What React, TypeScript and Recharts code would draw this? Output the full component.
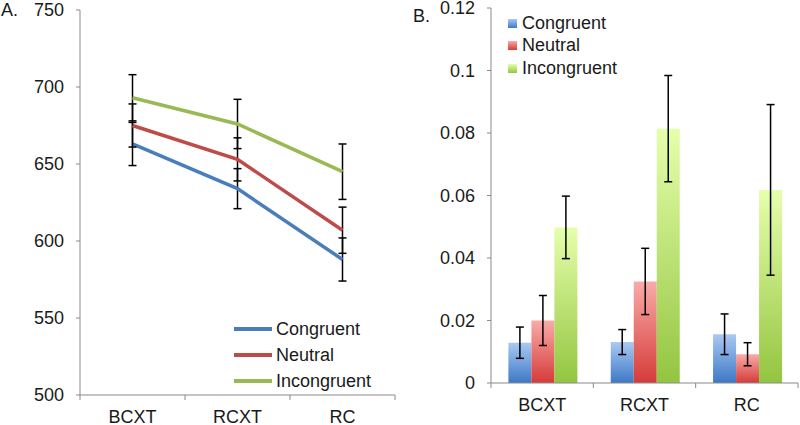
import React from 'react';
import {
  LineChart,
  Line,
  BarChart,
  Bar,
  XAxis,
  YAxis,
  ErrorBar,
  Legend
} from 'recharts';

// conditions on the x axis
const categories = ['BCXT', 'RCXT', 'RC'];

// Panel A: response times (ms) with error bars
const rtCongruent = [663, 634, 588];
const rtCongruentErr = [14, 13, 14];
const rtNeutral = [675, 653, 607];
const rtNeutralErr = [14, 14, 15];
const rtIncongruent = [693, 676, 645];
const rtIncongruentErr = [15, 16, 18];
const rtTicks = [500, 550, 600, 650, 700, 750];

// Panel B: error rates with error bars
const erCongruent = [0.0129, 0.0131, 0.0156];
const erCongruentErr = [0.005, 0.004, 0.0065];
const erNeutral = [0.02, 0.0325, 0.0092];
const erNeutralErr = [0.008, 0.0106, 0.0037];
const erIncongruent = [0.0498, 0.0814, 0.0618];
const erIncongruentErr = [0.01, 0.017, 0.0273];
const erTicks = [0, 0.02, 0.04, 0.06, 0.08, 0.1, 0.12];

const seriesNames = ['Congruent', 'Neutral', 'Incongruent'];
const lineColors = ['#4A7EBB', '#BE4B48', '#98B954'];
const barGradients = [
  { id: 'gBlue', top: '#A9C9F2', bottom: '#3D78C6' },
  { id: 'gRed', top: '#F9ABA9', bottom: '#D53B38' },
  { id: 'gGreen', top: '#E6FFAC', bottom: '#93C540' }
];

const FONT = '"Liberation Sans", Arial, sans-serif';
const AXIS = '#8A8A8A';
const TEXT = '#1A1A1A';

const lineData = categories.map((cat, i) => ({
  cat,
  congruent: rtCongruent[i],
  congruentErr: rtCongruentErr[i],
  neutral: rtNeutral[i],
  neutralErr: rtNeutralErr[i],
  incongruent: rtIncongruent[i],
  incongruentErr: rtIncongruentErr[i]
}));

const barData = categories.map((cat, i) => ({
  cat,
  congruent: erCongruent[i],
  congruentErr: erCongruentErr[i],
  neutral: erNeutral[i],
  neutralErr: erNeutralErr[i],
  incongruent: erIncongruent[i],
  incongruentErr: erIncongruentErr[i]
}));

const tickStyle = { fontSize: 18, fill: TEXT, fontFamily: FONT };

// category label + Excel-style tick marks between categories
const makeCatTick = (plotWidth: number) => (props: any) => {
  const { x, y, payload, index } = props;
  const half = payload?.offset || plotWidth / categories.length / 2;
  const axisY = y - 15;
  return (
    <g>
      {index === 0 && <line x1={x - half} y1={axisY} x2={x - half} y2={axisY + 5} stroke={AXIS} />}
      <line x1={x + half} y1={axisY} x2={x + half} y2={axisY + 5} stroke={AXIS} />
      <text x={x} y={y} dy="0.71em" textAnchor="middle" {...tickStyle}>
        {payload.value}
      </text>
    </g>
  );
};

const LineLegend = () => (
  <div style={{ fontFamily: FONT, fontSize: 18, color: TEXT }}>
    {seriesNames.map((name, i) => (
      <div key={name} style={{ display: 'flex', alignItems: 'center', height: 26 }}>
        <svg width={40} height={8} style={{ marginRight: 2 }}>
          <line x1={0} y1={4} x2={38} y2={4} stroke={lineColors[i]} strokeWidth={4} />
        </svg>
        <span>{name}</span>
      </div>
    ))}
  </div>
);

const BarLegend = () => (
  <div style={{ fontFamily: FONT, fontSize: 18, color: TEXT }}>
    {seriesNames.map((name, i) => (
      <div key={name} style={{ display: 'flex', alignItems: 'center', height: 22.5 }}>
        <svg width={9} height={9} style={{ marginRight: 5 }}>
          <defs>
            <linearGradient id={`lg${i}`} x1="0" y1="0" x2="0" y2="1">
              <stop offset="0%" stopColor={barGradients[i].top} />
              <stop offset="100%" stopColor={barGradients[i].bottom} />
            </linearGradient>
          </defs>
          <rect x={0} y={0} width={9} height={9} fill={`url(#lg${i})`} />
        </svg>
        <span>{name}</span>
      </div>
    ))}
  </div>
);

export default function App() {
  return (
    <div style={{ position: 'absolute', left: 0, top: 0, width: 800, height: 425, background: '#fff' }}>
      {/* A. response times */}
      <div style={{ position: 'absolute', left: 0, top: 0 }}>
        <LineChart width={400} height={425} data={lineData} margin={{ top: 10, right: 5, left: 0, bottom: 0 }}>
          <XAxis
            dataKey="cat"
            scale="band"
            stroke={AXIS}
            tickLine={false}
            tickSize={0}
            tickMargin={15}
            height={30}
            tick={makeCatTick(315)}
            interval={0}
          />
          <YAxis
            domain={[500, 750]}
            ticks={rtTicks}
            width={80}
            tickSize={4}
            tickMargin={12}
            stroke={AXIS}
            tick={tickStyle}
            interval={0}
          />
          <Legend
            layout="vertical"
            align="center"
            verticalAlign="middle"
            content={() => <LineLegend />}
            wrapperStyle={{ left: 234, top: 316, width: 'auto' }}
          />
          {['congruent', 'neutral', 'incongruent'].map((key, i) => (
            <Line
              key={key}
              dataKey={key}
              name={seriesNames[i]}
              stroke={lineColors[i]}
              strokeWidth={3.5}
              dot={false}
              isAnimationActive={false}
            >
              <ErrorBar dataKey={`${key}Err`} direction="y" width={4} stroke="#000" strokeWidth={1.5} />
            </Line>
          ))}
        </LineChart>
        <div style={{ position: 'absolute', left: 1, top: 0, fontFamily: FONT, fontSize: 18, color: TEXT }}>A.</div>
      </div>

      {/* B. error rates */}
      <div style={{ position: 'absolute', left: 400, top: 0 }}>
        <BarChart
          width={400}
          height={425}
          data={barData}
          margin={{ top: 8, right: 2, left: 0, bottom: 0 }}
          barCategoryGap="17%"
          barGap={0}
        >
          <defs>
            {barGradients.map((g) => (
              <linearGradient key={g.id} id={g.id} x1="0" y1="0" x2="0" y2="1">
                <stop offset="0%" stopColor={g.top} />
                <stop offset="100%" stopColor={g.bottom} />
              </linearGradient>
            ))}
          </defs>
          <XAxis
            dataKey="cat"
            stroke={AXIS}
            tickLine={false}
            tickSize={0}
            tickMargin={15}
            height={42}
            tick={makeCatTick(307)}
            interval={0}
          />
          <YAxis
            domain={[0, 0.12]}
            ticks={erTicks}
            width={91}
            tickSize={4}
            tickMargin={12}
            stroke={AXIS}
            tick={tickStyle}
            interval={0}
          />
          <Legend
            layout="vertical"
            align="center"
            verticalAlign="middle"
            content={() => <BarLegend />}
            wrapperStyle={{ left: 108, top: 12, width: 'auto' }}
          />
          {['congruent', 'neutral', 'incongruent'].map((key, i) => (
            <Bar
              key={key}
              dataKey={key}
              name={seriesNames[i]}
              fill={`url(#${barGradients[i].id})`}
              isAnimationActive={false}
            >
              <ErrorBar dataKey={`${key}Err`} direction="y" width={4} stroke="#000" strokeWidth={1.5} />
            </Bar>
          ))}
        </BarChart>
        <div style={{ position: 'absolute', left: 13, top: 6, fontFamily: FONT, fontSize: 18, color: TEXT }}>B.</div>
      </div>
    </div>
  );
}
